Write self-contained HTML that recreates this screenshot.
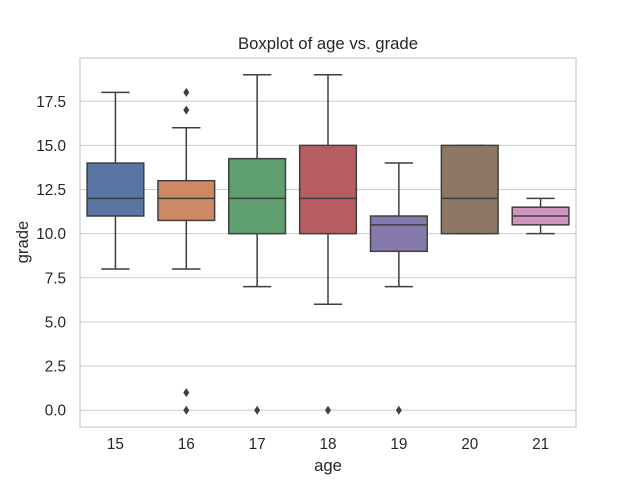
<!DOCTYPE html>
<html><head><meta charset="utf-8"><style>
body{margin:0;background:#fff;}
svg{display:block;font-family:"Liberation Sans","DejaVu Sans",sans-serif;}
</style></head><body>
<svg id="chart" width="640" height="480" viewBox="0 0 640 480" xmlns="http://www.w3.org/2000/svg">
<rect x="0" y="0" width="640" height="480" fill="#fff"/>
<g id="grid"></g>
<g id="boxes"></g>
<g id="axes"></g>
<text x="328" y="49" text-anchor="middle" font-size="16.7" fill="#262626">Boxplot of age vs. grade</text>
<text x="328" y="471" text-anchor="middle" font-size="16.7" fill="#262626">age</text>
<text transform="translate(28,242) rotate(-90)" text-anchor="middle" font-size="16.7" fill="#262626">grade</text>
</svg>
<script>
const categories = ["15","16","17","18","19","20","21"];
const whiskerLow = [8, 8, 7, 6, 7, 10, 10];
const q1 = [11, 10.75, 10, 10, 9, 10, 10.5];
const medians = [12, 12, 12, 12, 10.5, 12, 11];
const q3 = [14, 13, 14.25, 15, 11, 15, 11.5];
const whiskerHigh = [18, 16, 19, 19, 14, 15, 12];
const outliers = [[], [17, 18, 1, 0], [0], [0], [0], [], []];
const yTicks = [0, 2.5, 5, 7.5, 10, 12.5, 15, 17.5];
const yTickLabels = ["0.0","2.5","5.0","7.5","10.0","12.5","15.0","17.5"];
const colors = ["#5875a4","#cc8963","#5f9e6e","#b55d60","#857aab","#8d7866","#d095bf"];

const L=80,R=576,T=58,B=427,ymin=-0.95,ymax=19.95;
const ns="http://www.w3.org/2000/svg";
const y=v=>B-(v-ymin)/(ymax-ymin)*(B-T);
const bw=(R-L)/categories.length;
const x=i=>L+bw*(i+0.5);
function mk(tag,attrs,parent){const e=document.createElementNS(ns,tag);for(const k in attrs)e.setAttribute(k,attrs[k]);document.getElementById(parent).appendChild(e);return e;}
yTicks.forEach((t,i)=>{
  const g=mk('line',{x1:L,x2:R,y1:y(t),y2:y(t),stroke:'#cccccc','stroke-width':1},'grid');
  
  
  const tx=mk('text',{x:L-14,y:y(t)+5.5,'text-anchor':'end','font-size':15.3,fill:'#262626'},'axes');
  tx.textContent=yTickLabels[i];
  
  
});
categories.forEach((c,i)=>{
  const cx=x(i),hw=bw*0.4,col='#3f3f3f';
  const g=mk('g',{},'boxes');
  g.setAttribute('id','b'+i);
  
  
  const p='b'+i;
  mk('line',{x1:cx,x2:cx,y1:y(q3[i]),y2:y(whiskerHigh[i]),stroke:col,'stroke-width':1.5},p);
  mk('line',{x1:cx,x2:cx,y1:y(q1[i]),y2:y(whiskerLow[i]),stroke:col,'stroke-width':1.5},p);
  mk('line',{x1:cx-hw/2,x2:cx+hw/2,y1:y(whiskerHigh[i]),y2:y(whiskerHigh[i]),stroke:col,'stroke-width':1.5},p);
  mk('line',{x1:cx-hw/2,x2:cx+hw/2,y1:y(whiskerLow[i]),y2:y(whiskerLow[i]),stroke:col,'stroke-width':1.5},p);
  mk('rect',{x:cx-hw,y:y(q3[i]),width:hw*2,height:y(q1[i])-y(q3[i]),fill:colors[i],stroke:col,'stroke-width':1.5},p);
  mk('line',{x1:cx-hw,x2:cx+hw,y1:y(medians[i]),y2:y(medians[i]),stroke:col,'stroke-width':1.5},p);
  outliers[i].forEach(o=>{
    const d=mk('path',{d:`M${cx},${y(o)-4.5} L${cx+3},${y(o)} L${cx},${y(o)+4.5} L${cx-3},${y(o)} Z`,fill:col},p);
    
    
  });
  const tx=mk('text',{x:cx,y:B+22,'text-anchor':'middle','font-size':15.3,fill:'#262626'},'axes');
  tx.textContent=c;
  
  
});
const fr=mk('rect',{x:L,y:T,width:R-L,height:B-T,fill:'none',stroke:'#cccccc','stroke-width':1.25},'axes');


</script>
</body></html>
